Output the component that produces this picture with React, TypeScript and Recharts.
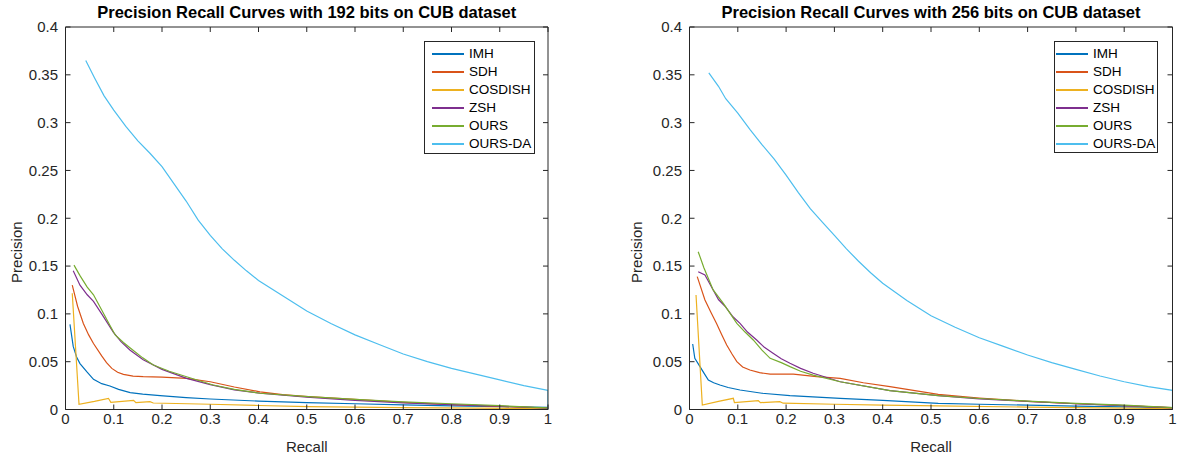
import React from 'react';
import { LineChart, Line, XAxis, YAxis, Legend } from 'recharts';

type Pt = [number, number];

// ---------- 192 bits ----------
const IMH_192: Pt[] = [[0.0093,0.089],[0.016,0.066],[0.023,0.055],[0.03,0.048],[0.044,0.0395],[0.058,0.0315],[0.075,0.027],[0.092,0.0246],[0.11,0.021],[0.134,0.0176],[0.16,0.016],[0.196,0.0145],[0.25,0.0125],[0.3,0.011],[0.4,0.0088],[0.5,0.0072],[0.6,0.006],[0.7,0.0048],[0.8,0.0038],[0.9,0.003],[1.0,0.0022]];
const SDH_192: Pt[] = [[0.014,0.13],[0.025,0.108],[0.037,0.09],[0.048,0.078],[0.058,0.069],[0.075,0.056],[0.085,0.049],[0.096,0.043],[0.108,0.039],[0.12,0.0368],[0.14,0.035],[0.161,0.0343],[0.2,0.0338],[0.251,0.0326],[0.3,0.029],[0.35,0.0235],[0.403,0.0185],[0.45,0.0155],[0.503,0.0134],[0.6,0.0105],[0.7,0.0075],[0.8,0.005],[0.9,0.0032],[1.0,0.0015]];
const COSDISH_192: Pt[] = [[0.014,0.1215],[0.028,0.0054],[0.06,0.0085],[0.089,0.0117],[0.094,0.0075],[0.141,0.0096],[0.146,0.0071],[0.175,0.0082],[0.182,0.0068],[0.3,0.0055],[0.4,0.0042],[0.503,0.003],[0.7,0.002],[0.85,0.0015],[1.0,0.001]];
const ZSH_192: Pt[] = [[0.016,0.145],[0.03,0.13],[0.045,0.12],[0.058,0.113],[0.075,0.1],[0.099,0.081],[0.115,0.071],[0.134,0.062],[0.161,0.052],[0.2,0.042],[0.251,0.0326],[0.3,0.026],[0.35,0.0205],[0.403,0.017],[0.5,0.0128],[0.6,0.0095],[0.7,0.007],[0.8,0.005],[0.9,0.0035],[1.0,0.0015]];
const OURS_192: Pt[] = [[0.0176,0.151],[0.03,0.14],[0.045,0.128],[0.058,0.12],[0.075,0.104],[0.09,0.09],[0.103,0.078],[0.12,0.07],[0.14,0.062],[0.16,0.054],[0.182,0.0465],[0.215,0.04],[0.251,0.0343],[0.306,0.0256],[0.35,0.021],[0.403,0.017],[0.503,0.0134],[0.6,0.0105],[0.7,0.008],[0.8,0.006],[0.9,0.004],[1.0,0.0018]];
const OURS_DA_192: Pt[] = [[0.042,0.365],[0.06,0.347],[0.08,0.328],[0.1,0.313],[0.125,0.296],[0.15,0.281],[0.175,0.268],[0.2,0.254],[0.225,0.236],[0.25,0.218],[0.275,0.198],[0.3,0.182],[0.325,0.168],[0.35,0.156],[0.375,0.145],[0.4,0.135],[0.45,0.119],[0.5,0.103],[0.55,0.09],[0.6,0.078],[0.65,0.068],[0.7,0.058],[0.75,0.05],[0.8,0.043],[0.85,0.037],[0.9,0.031],[0.95,0.025],[1.0,0.02],[1.0,0]];

// ---------- 256 bits ----------
const IMH_256: Pt[] = [[0.0066,0.0685],[0.011,0.0535],[0.0217,0.0448],[0.03,0.038],[0.039,0.0308],[0.05,0.028],[0.063,0.0256],[0.08,0.023],[0.1046,0.0204],[0.15,0.017],[0.208,0.0145],[0.312,0.0117],[0.4,0.0095],[0.515,0.0065],[0.6,0.0055],[0.7,0.0045],[0.8,0.0035],[0.9,0.0028],[1.0,0.002]];
const SDH_256: Pt[] = [[0.016,0.139],[0.032,0.1145],[0.044,0.102],[0.056,0.09],[0.067,0.078],[0.077,0.0675],[0.088,0.058],[0.098,0.05],[0.11,0.0445],[0.125,0.0413],[0.145,0.0385],[0.167,0.037],[0.215,0.037],[0.263,0.0343],[0.312,0.0326],[0.36,0.028],[0.415,0.0239],[0.515,0.0159],[0.6,0.012],[0.7,0.0085],[0.8,0.006],[0.9,0.004],[1.0,0.002]];
const COSDISH_256: Pt[] = [[0.0135,0.1197],[0.0265,0.0047],[0.06,0.0085],[0.0907,0.0117],[0.093,0.0073],[0.1425,0.0092],[0.147,0.0072],[0.187,0.0082],[0.194,0.0066],[0.3,0.0055],[0.4,0.0045],[0.515,0.0037],[0.7,0.0025],[0.85,0.0017],[1.0,0.001]];
const ZSH_256: Pt[] = [[0.018,0.144],[0.032,0.1406],[0.049,0.125],[0.06,0.115],[0.0735,0.108],[0.09,0.097],[0.1046,0.09],[0.12,0.081],[0.139,0.0727],[0.155,0.065],[0.173,0.0588],[0.19,0.053],[0.208,0.0483],[0.23,0.043],[0.256,0.0379],[0.312,0.029],[0.415,0.0197],[0.515,0.0145],[0.6,0.0112],[0.7,0.0085],[0.8,0.006],[0.9,0.004],[1.0,0.0018]];
const OURS_256: Pt[] = [[0.018,0.165],[0.03,0.148],[0.049,0.125],[0.07,0.111],[0.098,0.09],[0.115,0.081],[0.132,0.0727],[0.15,0.062],[0.167,0.0535],[0.19,0.049],[0.208,0.0448],[0.23,0.04],[0.256,0.036],[0.312,0.029],[0.415,0.0197],[0.515,0.0145],[0.6,0.0115],[0.7,0.0088],[0.8,0.0065],[0.9,0.0045],[1.0,0.002]];
const OURS_DA_256: Pt[] = [[0.04,0.352],[0.06,0.338],[0.075,0.325],[0.1,0.31],[0.125,0.293],[0.15,0.277],[0.175,0.262],[0.2,0.245],[0.225,0.227],[0.25,0.21],[0.275,0.196],[0.3,0.182],[0.325,0.168],[0.35,0.155],[0.375,0.143],[0.4,0.132],[0.45,0.114],[0.5,0.098],[0.55,0.086],[0.6,0.075],[0.65,0.066],[0.7,0.057],[0.75,0.049],[0.8,0.042],[0.85,0.035],[0.9,0.029],[0.95,0.024],[1.0,0.02],[1.0,0]];

const SERIES_NAMES = ['IMH', 'SDH', 'COSDISH', 'ZSH', 'OURS', 'OURS-DA'];
const SERIES_COLORS = ['#0072BD', '#D95319', '#EDB120', '#7E2F8E', '#77AC30', '#4DBEEE'];
const X_TICKS = [0, 0.1, 0.2, 0.3, 0.4, 0.5, 0.6, 0.7, 0.8, 0.9, 1];
const Y_TICKS = [0, 0.05, 0.1, 0.15, 0.2, 0.25, 0.3, 0.35, 0.4];
const TITLES = ['Precision Recall Curves with 192 bits on CUB dataset', 'Precision Recall Curves with 256 bits on CUB dataset'];

const FONT = '"Liberation Sans", Arial, Helvetica, sans-serif';
const AX = '#262626';

const toPts = (a: Pt[]) => a.map(([r, p]) => ({ r, p }));

type LegendBox = { left: number; top: number; width: number; height: number; lineX: number; textX: number };

function makeLegend(box: LegendBox) {
  return (props: any) => {
    const payload = [...(props.payload || [])].sort(
      (a: any, b: any) => SERIES_NAMES.indexOf(a.value) - SERIES_NAMES.indexOf(b.value)
    );
    return (
      <div style={{ width: box.width, height: box.height, border: `1px solid ${AX}`, boxSizing: 'border-box', background: '#fff', position: 'relative', fontFamily: FONT }}>
        {payload.map((e: any, i: number) => {
          const cy = 12 + i * 18;
          return (
            <React.Fragment key={i}>
              <div style={{ position: 'absolute', left: box.lineX, top: cy - 0.6, width: 32, height: 1.3, background: e.color }} />
              <div style={{ position: 'absolute', left: box.textX, top: cy - 8, height: 16, lineHeight: '16px', fontSize: 13.5, color: '#000', whiteSpace: 'nowrap' }}>{e.value}</div>
            </React.Fragment>
          );
        })}
      </div>
    );
  };
}

const precisionLabel = (props: any) => {
  const vb = props.viewBox || {};
  const x = 16;
  const y = (vb.y || 0) + (vb.height || 0) / 2 + 34;
  return (
    <text x={x} y={y} transform={`rotate(-90 ${x} ${y})`} textAnchor="middle" dominantBaseline="central"
      fill={AX} fontSize={15} fontFamily={FONT}>Precision</text>
  );
};

function Panel({ data, left, width, yAxisWidth, marginRight, legend, title }: { data: Pt[][]; left: number; width: number; yAxisWidth: number; marginRight: number; legend: LegendBox; title: string }) {
  const plotLeft = yAxisWidth;
  const plotRight = width - marginRight - 1;
  const cx = (plotLeft + plotRight) / 2;
  const tickStyle = { fill: AX, fontSize: 15, fontFamily: FONT };
  return (
    <div style={{ position: 'absolute', left, top: 0, width, height: 457 }}>
      <div style={{ position: 'absolute', left: cx - 280, width: 560, top: 2, textAlign: 'center', fontFamily: FONT, fontWeight: 'bold', fontSize: 16.5, lineHeight: '20px', color: '#000', zIndex: 2 }}>{title}</div>
      <LineChart width={width} height={457} margin={{ top: 26, right: marginRight, bottom: 0, left: 0 }}>
        <XAxis dataKey="r" type="number" domain={[0, 1]} ticks={X_TICKS} height={47.5} tickSize={-5} tickMargin={8.5}
          tick={tickStyle} stroke={AX} tickLine={{ stroke: AX }} axisLine={{ stroke: AX }} allowDataOverflow
          label={{ value: 'Recall', position: 'insideBottom', offset: 5, style: { fill: AX, fontSize: 15, fontFamily: FONT } }} />
        <XAxis xAxisId="top" orientation="top" dataKey="r" type="number" domain={[0, 1]} ticks={X_TICKS} height={1} tickSize={-5}
          tickFormatter={() => ''} stroke={AX} tickLine={{ stroke: AX }} axisLine={{ stroke: AX }} allowDataOverflow />
        <YAxis type="number" domain={[0, 0.4]} ticks={Y_TICKS} width={yAxisWidth} tickSize={-5} tickMargin={12.5}
          tick={tickStyle} stroke={AX} tickLine={{ stroke: AX }} axisLine={{ stroke: AX }} allowDataOverflow
          tickFormatter={(v: number) => String(v)}
          label={{ value: 'Precision', content: precisionLabel }} />
        <YAxis yAxisId="right" orientation="right" type="number" domain={[0, 0.4]} ticks={Y_TICKS} width={1} tickSize={-5}
          tickFormatter={() => ''} stroke={AX} tickLine={{ stroke: AX }} axisLine={{ stroke: AX }} allowDataOverflow />
        {data.map((s, i) => (
          <Line key={SERIES_NAMES[i]} name={SERIES_NAMES[i]} data={toPts(s)} dataKey="p" type="linear" stroke={SERIES_COLORS[i]}
            strokeWidth={1.2} dot={false} activeDot={false} isAnimationActive={false} />
        ))}
        <Legend layout="horizontal" verticalAlign="middle" align="center" content={makeLegend(legend)}
          wrapperStyle={{ position: 'absolute', left: legend.left, top: legend.top, width: legend.width, height: legend.height, margin: 0 }} />
      </LineChart>
    </div>
  );
}

export default function App() {
  return (
    <div style={{ position: 'absolute', left: 0, top: 0, width: 1177, height: 457, background: '#fff' }}>
      <Panel data={[IMH_192, SDH_192, COSDISH_192, ZSH_192, OURS_192, OURS_DA_192]} left={0} width={560} yAxisWidth={65.5} marginRight={11}
        legend={{ left: 424, top: 41, width: 111, height: 113, lineX: 7, textX: 44 }} title={TITLES[0]} />
      <Panel data={[IMH_256, SDH_256, COSDISH_256, ZSH_256, OURS_256, OURS_DA_256]} left={620} width={557} yAxisWidth={69.5} marginRight={3.5}
        legend={{ left: 434, top: 41, width: 104, height: 112, lineX: 1, textX: 38 }} title={TITLES[1]} />
    </div>
  );
}
